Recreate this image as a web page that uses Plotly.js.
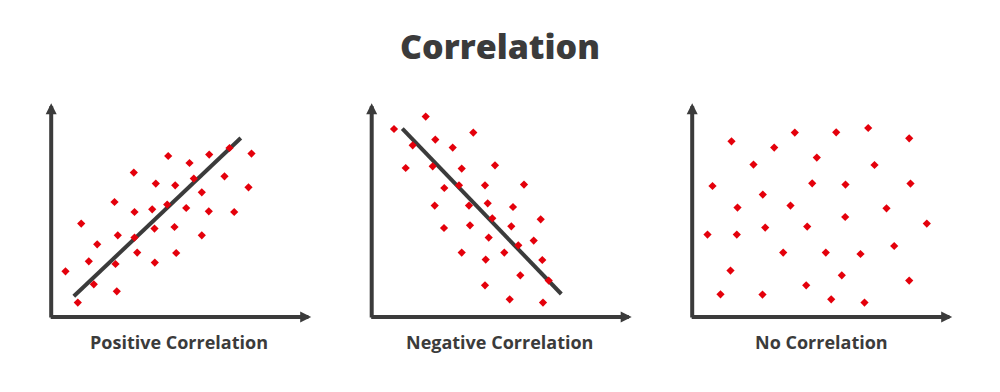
<!DOCTYPE html>
<html>
<head>
<meta charset="utf-8">
<script src="https://cdn.plot.ly/plotly-3.0.1.min.js"></script>
<style>html,body{margin:0;padding:0;background:#fff;}#chart{width:1000px;height:392px;}</style>
</head>
<body>
<div id="chart"></div>
<script>
// Data (arbitrary units, origin at the axis corner)
const posX = [14.3, 26.6, 30.0, 37.6, 42.6, 46.0, 63.3, 64.3, 65.6, 66.6, 82.6, 83.3, 83.3, 86.0, 101.0, 103.3, 103.6, 104.6, 116.0, 117.0, 123.3, 124.0, 125.0, 135.0, 138.3, 142.6, 150.6, 150.6, 157.6, 158.0, 173.3, 178.3, 183.0, 197.3, 200.3];
const posY = [45.7, 14.4, 93.4, 55.7, 32.7, 72.7, 115.0, 53.0, 25.7, 81.7, 144.4, 105.0, 79.4, 64.4, 107.7, 88.4, 54.4, 133.4, 112.4, 161.0, 90.0, 131.7, 64.0, 109.0, 154.0, 138.4, 81.7, 124.7, 105.7, 162.4, 140.7, 169.0, 105.0, 129.7, 163.4];
const posFitX = [22.6, 189.6];
const posFitY = [20.7, 179.0];

const negX = [22.3, 54.0, 41.0, 63.6, 81.0, 101.6, 34.0, 61.0, 90.0, 123.3, 72.6, 87.3, 113.3, 152.3, 63.0, 97.3, 116.0, 141.3, 72.3, 98.3, 120.6, 139.6, 169.0, 117.0, 146.6, 162.0, 90.0, 114.0, 132.6, 170.6, 148.6, 113.3, 177.0, 138.0, 171.3];
const negY = [188.0, 200.4, 171.7, 177.4, 169.4, 184.4, 149.0, 150.7, 148.4, 151.7, 129.0, 131.7, 131.7, 132.4, 111.4, 111.4, 113.7, 110.0, 89.0, 91.7, 98.7, 90.7, 97.7, 79.4, 71.7, 76.4, 64.4, 57.4, 64.4, 57.0, 41.7, 31.7, 36.4, 17.7, 14.4];
const negFitX = [30.6, 189.6];
const negFitY = [188.4, 23.0];

const noneX = [39.3, 102.6, 144.0, 176.0, 217.0, 82.0, 124.6, 61.3, 182.3, 20.3, 120.0, 153.3, 218.3, 70.6, 45.3, 98.3, 194.3, 153.0, 234.6, 15.3, 44.6, 73.0, 115.0, 91.0, 133.6, 168.3, 202.0, 38.3, 149.6, 217.0, 114.0, 28.3, 70.3, 139.0, 172.3];
const noneY = [175.7, 184.4, 184.7, 189.0, 178.7, 169.4, 159.4, 152.4, 152.0, 131.0, 133.7, 132.4, 133.4, 122.4, 109.4, 111.4, 108.7, 100.0, 93.4, 82.4, 82.4, 89.4, 90.4, 64.4, 64.4, 63.0, 71.0, 46.4, 41.7, 36.4, 31.7, 22.7, 22.4, 17.7, 14.4];

const panelTitles = ["Positive Correlation", "Negative Correlation", "No Correlation"];
const mainTitle = "Correlation";

const RED = "#e4000b";
const DARK = "#3b3b3b";
const FONT = "Open Sans, sans-serif";

function pts(x, y, ax) {
  return {x: x, y: y, xaxis: "x" + ax, yaxis: "y" + ax, type: "scatter", mode: "markers",
    cliponaxis: false, hoverinfo: "skip",
    marker: {symbol: "diamond", size: 6.3, color: RED, line: {width: 0}}};
}
function fit(x, y, ax) {
  return {x: x, y: y, xaxis: "x" + ax, yaxis: "y" + ax, type: "scatter", mode: "lines",
    cliponaxis: false, hoverinfo: "skip", line: {color: DARK, width: 4}};
}

const traces = [
  fit(posFitX, posFitY, ""), pts(posX, posY, ""),
  fit(negFitX, negFitY, "2"), pts(negX, negY, "2"),
  pts(noneX, noneY, "3")
];

const W = 1000, H = 392;
const x0s = [51.2, 371.7, 692.2];
const axW = 260, yBot = 317, yTop = 103.3;
const XR = [0, 260], YR = [0, 213.7];

const layout = {
  width: W, height: H, margin: {l: 0, r: 0, t: 0, b: 0},
  paper_bgcolor: "#ffffff", plot_bgcolor: "rgba(0,0,0,0)",
  showlegend: false,
  annotations: [],
  font: {family: FONT, color: DARK}
};
const names = ["", "2", "3"];
names.forEach((n, i) => {
  const ax = {domain: [x0s[i] / W, (x0s[i] + axW) / W], range: XR, visible: false, fixedrange: true};
  const ay = {domain: [1 - yBot / H, 1 - yTop / H], range: YR, visible: false, fixedrange: true};
  if (n) { ax.anchor = "y" + n; ay.anchor = "x" + n; }
  layout["xaxis" + n] = ax;
  layout["yaxis" + n] = ay;
  const xr = "x" + n + " domain", yr = "y" + n + " domain";
  // vertical axis arrow
  layout.annotations.push({xref: xr, yref: yr, x: 0, y: 1, ax: 0, ay: (yBot - yTop) + 2, text: "",
    showarrow: true, arrowhead: 2, arrowsize: 0.55, arrowwidth: 4, arrowcolor: DARK, standoff: 0});
  // horizontal axis arrow
  layout.annotations.push({xref: xr, yref: yr, x: 1, y: 0, ax: -(axW + 2), ay: 0, text: "",
    showarrow: true, arrowhead: 2, arrowsize: 0.55, arrowwidth: 4, arrowcolor: DARK, standoff: 0});
});
const labCx = [179, 499.5, 821];
panelTitles.forEach((t, i) => {
  layout.annotations.push({xref: "paper", yref: "paper", x: labCx[i] / W, y: 1 - 341.5 / H,
    xanchor: "center", yanchor: "middle", showarrow: false, text: t,
    font: {family: FONT, size: 18, color: DARK, weight: 700}});
});
layout.annotations.push({xref: "paper", yref: "paper", x: 0.5, y: 1 - 45.5 / H,
  xanchor: "center", yanchor: "middle", showarrow: false,
  text: mainTitle,
  font: {family: FONT, size: 34, color: DARK, weight: 800}});

Plotly.newPlot("chart", traces, layout, {staticPlot: true, displayModeBar: false});
</script>
</body>
</html>
